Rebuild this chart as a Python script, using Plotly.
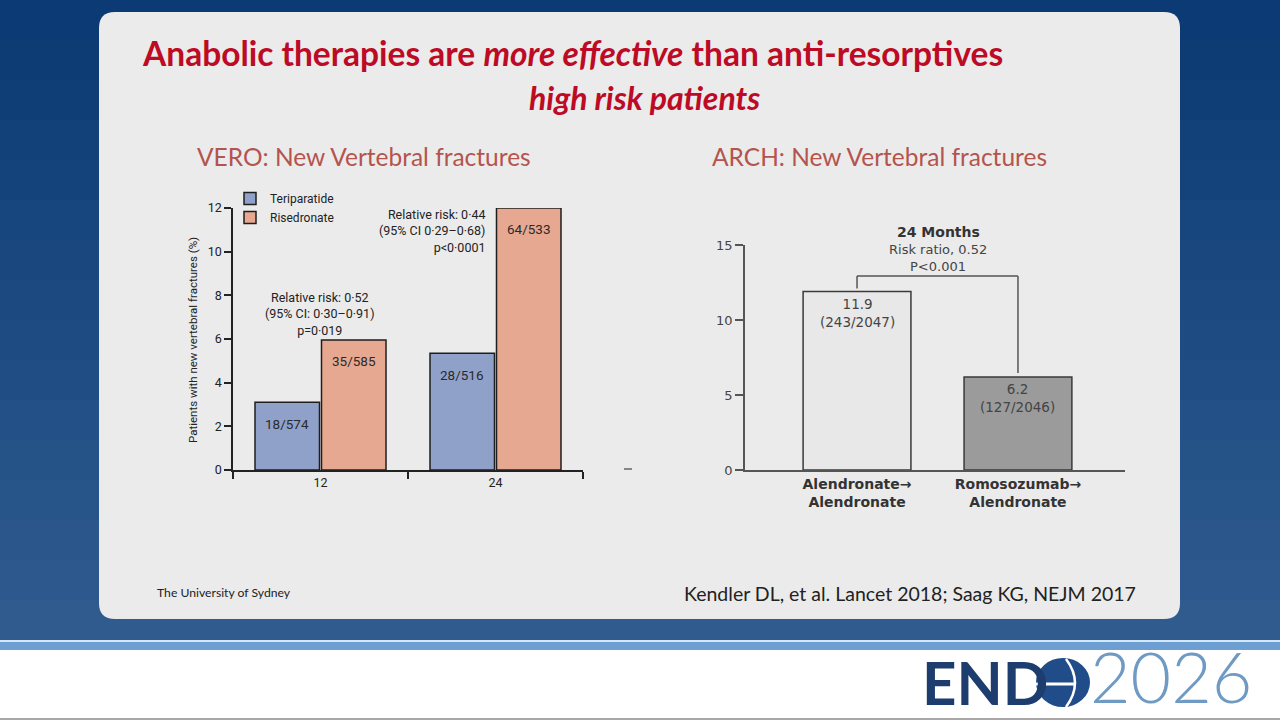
import plotly.graph_objects as go

W, H = 1280, 720
def px(x): return x / W
def py(y): return 1 - y / H

# ---------------- data ----------------
vero_months = ["12", "24"]
teri_pct = [3.1, 5.35]
rise_pct = [5.95, 12.0]
teri_labels = ["18/574", "28/516"]
rise_labels = ["35/585", "64/533"]
vero_y_ticks = [0, 2, 4, 6, 8, 10, 12]

arch_groups = ["Alendronate→<br>Alendronate", "Romosozumab→<br>Alendronate"]
arch_pct = [11.9, 6.2]
arch_pct_text = ["11.9", "6.2"]
arch_counts = ["(243/2047)", "(127/2046)"]
arch_y_ticks = [0, 5, 10, 15]

RED = "#bd0a25"
SUB = "#b4544e"
NARROW = "Liberation Sans Narrow, Arial Narrow, Roboto, sans-serif"
SANS = "Lato, Noto Sans, sans-serif"

fig = go.Figure()

# VERO bars
fig.add_bar(x=vero_months, y=teri_pct, name="Teriparatide", xaxis="x", yaxis="y",
            marker=dict(color="#8fa1c9", line=dict(color="#1e1e1e", width=1.5)))
fig.add_bar(x=vero_months, y=rise_pct, name="Risedronate", xaxis="x", yaxis="y",
            marker=dict(color="#e7a891", line=dict(color="#1e1e1e", width=1.5)))

# ARCH bars
fig.add_bar(x=[0, 1], y=arch_pct, width=0.67, xaxis="x2", yaxis="y2", showlegend=False,
            marker=dict(color=["#e8e8e8", "#9b9b9b"], line=dict(color="#3a3a3a", width=1.5)))

shapes = []
# background gradient bands
top = (11, 58, 116)
bot = (47, 91, 143)
n = 16
for i in range(n):
    t = i / (n - 1)
    c = tuple(int(top[k] + (bot[k] - top[k]) * t) for k in range(3))
    shapes.append(dict(type="rect", xref="paper", yref="paper", layer="below",
                       x0=0, x1=1, y0=py(640 * (i + 1) / n), y1=py(640 * i / n),
                       fillcolor="rgb(%d,%d,%d)" % c, line=dict(width=0)))
# stripe and white band
shapes.append(dict(type="rect", xref="paper", yref="paper", layer="below",
                   x0=0, x1=1, y0=py(650), y1=py(640), fillcolor="#6e9fd2", line=dict(width=0)))
shapes.append(dict(type="rect", xref="paper", yref="paper", layer="below",
                   x0=0, x1=1, y0=py(642), y1=py(640), fillcolor="#d5e8f7", line=dict(width=0)))
shapes.append(dict(type="rect", xref="paper", yref="paper", layer="below",
                   x0=0, x1=1, y0=py(718), y1=py(650), fillcolor="#ffffff", line=dict(width=0)))
shapes.append(dict(type="rect", xref="paper", yref="paper", layer="below",
                   x0=0, x1=1, y0=0, y1=py(718), fillcolor="#a8a8a8", line=dict(width=0)))

# rounded panel
def rrect(x0, y0, x1, y1, r):
    X = lambda v: "%.5f" % px(v)
    Y = lambda v: "%.5f" % py(v)
    return ("M %s,%s L %s,%s Q %s,%s %s,%s L %s,%s Q %s,%s %s,%s L %s,%s Q %s,%s %s,%s "
            "L %s,%s Q %s,%s %s,%s Z") % (
        X(x0 + r), Y(y0), X(x1 - r), Y(y0), X(x1), Y(y0), X(x1), Y(y0 + r),
        X(x1), Y(y1 - r), X(x1), Y(y1), X(x1 - r), Y(y1),
        X(x0 + r), Y(y1), X(x0), Y(y1), X(x0), Y(y1 - r),
        X(x0), Y(y0 + r), X(x0), Y(y0), X(x0 + r), Y(y0))
shapes.append(dict(type="path", xref="paper", yref="paper", layer="below",
                   path=rrect(99, 12, 1180, 619, 16), fillcolor="#ebebeb", line=dict(width=0)))

# stray dash
shapes.append(dict(type="line", xref="paper", yref="paper", x0=px(624), x1=px(632),
                   y0=py(469), y1=py(469), line=dict(color="#444", width=1.2)))

# ARCH bracket
bc = dict(color="#555", width=1.5)
shapes.append(dict(type="line", xref="x2", yref="y2", x0=0, x1=0, y0=12.1, y1=12.93, line=bc))
shapes.append(dict(type="line", xref="x2", yref="y2", x0=0, x1=1, y0=12.93, y1=12.93, line=bc))
shapes.append(dict(type="line", xref="x2", yref="y2", x0=1, x1=1, y0=12.93, y1=6.47, line=bc))

# logo globe
shapes.append(dict(type="circle", xref="paper", yref="paper", x0=px(1036), x1=px(1090),
                   y0=py(707), y1=py(658), fillcolor="#214c8a", line=dict(width=0)))
shapes.append(dict(type="line", xref="paper", yref="paper", x0=px(1036), x1=px(1074),
                   y0=py(684), y1=py(684), line=dict(color="white", width=3)))
shapes.append(dict(type="path", xref="paper", yref="paper",
                   path="M %.5f,%.5f Q %.5f,%.5f %.5f,%.5f" % (px(1066), py(659), px(1084), py(683), px(1066), py(707)),
                   line=dict(color="white", width=2.5)))

ann = []
# titles
ann.append(dict(text="<b>Anabolic therapies are <i>more effective</i> than anti-resorptives</b>",
                x=px(140), y=py(53), xanchor="left", yanchor="middle",
                font=dict(family=SANS, size=33.5, color=RED)))
ann.append(dict(text="<b><i>high risk patients</i></b>", x=px(762), y=py(98),
                xanchor="right", yanchor="middle", font=dict(family=SANS, size=32, color=RED)))
ann.append(dict(text="VERO: New Vertebral fractures", x=px(195), y=py(156), xanchor="left",
                yanchor="middle", font=dict(family=SANS, size=24.5, color=SUB)))
ann.append(dict(text="ARCH: New Vertebral fractures", x=px(710), y=py(156), xanchor="left",
                yanchor="middle", font=dict(family=SANS, size=24.5, color=SUB)))

# VERO y title
ann.append(dict(text="Patients with new vertebral fractures (%)", x=px(193), y=py(340),
                textangle=-90, xanchor="center", yanchor="middle",
                font=dict(family=NARROW, size=11.5, color="#222")))
# VERO stats
ann.append(dict(text="Relative risk: 0·52<br>(95% CI: 0·30–0·91)<br>p=0·019", x=px(320), y=py(314),
                xanchor="center", yanchor="middle", align="center",
                font=dict(family=NARROW, size=12.5, color="#222")))
ann.append(dict(text="Relative risk: 0·44<br>(95% CI 0·29–0·68)<br>p&lt;0·0001", x=px(487), y=py(231),
                xanchor="right", yanchor="middle", align="right",
                font=dict(family=NARROW, size=12.5, color="#222")))
# VERO bar labels
for i in range(len(vero_months)):
    ann.append(dict(text=teri_labels[i], x=i - 0.19, y=teri_pct[i], xref="x", yref="y",
                    yshift=-22, showarrow=False, font=dict(family=NARROW, size=13.5, color="#2a2a2a")))
    ann.append(dict(text=rise_labels[i], x=i + 0.19, y=rise_pct[i], xref="x", yref="y",
                    yshift=-21, showarrow=False, font=dict(family=NARROW, size=13.5, color="#2a2a2a")))
# ARCH bar labels
for i in range(len(arch_pct)):
    ann.append(dict(text=arch_pct_text[i] + "<br>" + arch_counts[i], x=i, y=arch_pct[i],
                    xref="x2", yref="y2", yanchor="top", yshift=-2, showarrow=False,
                    font=dict(family="DejaVu Sans", size=13.5, color="#444")))
# ARCH header
ann.append(dict(text="<b>24 Months</b>", x=px(938), y=py(232), xanchor="center", yanchor="middle",
                font=dict(family="DejaVu Sans", size=14, color="#333")))
ann.append(dict(text="Risk ratio, 0.52", x=px(938), y=py(249), xanchor="center", yanchor="middle",
                font=dict(family="DejaVu Sans", size=13, color="#444")))
ann.append(dict(text="P&lt;0.001", x=px(938), y=py(266), xanchor="center", yanchor="middle",
                font=dict(family="DejaVu Sans", size=13, color="#444")))
# footers
ann.append(dict(text="The University of Sydney", x=px(155), y=py(592), xanchor="left", yanchor="middle",
                font=dict(family=SANS, size=12.2, color="#222")))
ann.append(dict(text="Kendler DL, et al. Lancet 2018; Saag KG, NEJM 2017", x=px(1138), y=py(593),
                xanchor="right", yanchor="middle", font=dict(family=SANS, size=19.5, color="#222")))
# logo text (anchored to the bottom edge so the text box stays inside the page)
ann.append(dict(text="<b>END</b>", x=px(920), y=0, xanchor="left", yanchor="bottom",
                font=dict(family="Lato", size=60, color="#1c3d6e", weight=900)))
ann.append(dict(text="2026", x=px(1088), y=0, xanchor="left", yanchor="bottom",
                font=dict(family="Lato", size=70, color="#6f9ac3", weight=300)))

for a in ann:
    a.setdefault("xref", "paper")
    a.setdefault("yref", "paper")
    a.setdefault("showarrow", False)

fig.update_layout(
    width=W, height=H, margin=dict(l=0, r=0, t=0, b=0, pad=0, autoexpand=False),
    paper_bgcolor="#ffffff", plot_bgcolor="rgba(0,0,0,0)",
    barmode="group", bargap=0.24, bargroupgap=0.03,
    shapes=shapes, annotations=ann,
    legend=dict(x=px(230), y=py(184), xanchor="left", yanchor="top", bgcolor="rgba(0,0,0,0)",
                font=dict(family=NARROW, size=12, color="#222"), itemwidth=30,
                tracegroupgap=0),
    xaxis=dict(domain=[px(233), px(583)], anchor="y", type="category", range=[-0.5, 1.5],
               tickson="boundaries", ticks="outside", ticklen=7, tickcolor="#222", tickwidth=1.5,
               showline=True, linecolor="#222", linewidth=1.5, showgrid=False, automargin=False,
               tickfont=dict(family=NARROW, size=12.5, color="#222")),
    yaxis=dict(domain=[py(470), py(208)], anchor="x", range=[0, 12], tickvals=vero_y_ticks,
               ticks="outside", ticklen=7, tickcolor="#222", tickwidth=1.5, automargin=False,
               showline=True, linecolor="#222", linewidth=1.5, showgrid=False, zeroline=False,
               tickfont=dict(family=NARROW, size=12.5, color="#222")),
    xaxis2=dict(domain=[px(745), px(1125)], anchor="y2", range=[-0.696, 1.665],
                tickvals=[0, 1], ticktext=["<b>" + g + "</b>" for g in arch_groups],
                ticks="", showline=True, linecolor="#555", linewidth=1.5, showgrid=False,
                zeroline=False, automargin=False,
                tickfont=dict(family="DejaVu Sans", size=14, color="#333")),
    yaxis2=dict(domain=[py(470), py(245)], anchor="x2", range=[0, 15], tickvals=arch_y_ticks,
                ticks="outside", ticklen=8, tickcolor="#555", tickwidth=1.5, automargin=False,
                showline=True, linecolor="#555", linewidth=1.5, showgrid=False, zeroline=False,
                tickfont=dict(family="DejaVu Sans", size=13, color="#444")),
)

post = ("document.documentElement.style.margin='0';document.documentElement.style.overflow='hidden';"
        "document.body.style.margin='0';document.body.style.padding='0';document.body.style.overflow='hidden';"
        "var d=document.getElementById('{plot_id}');d.style.position='absolute';d.style.left='0px';d.style.top='0px';")
fig.write_html("out.html", post_script=post, config={"displayModeBar": False})
